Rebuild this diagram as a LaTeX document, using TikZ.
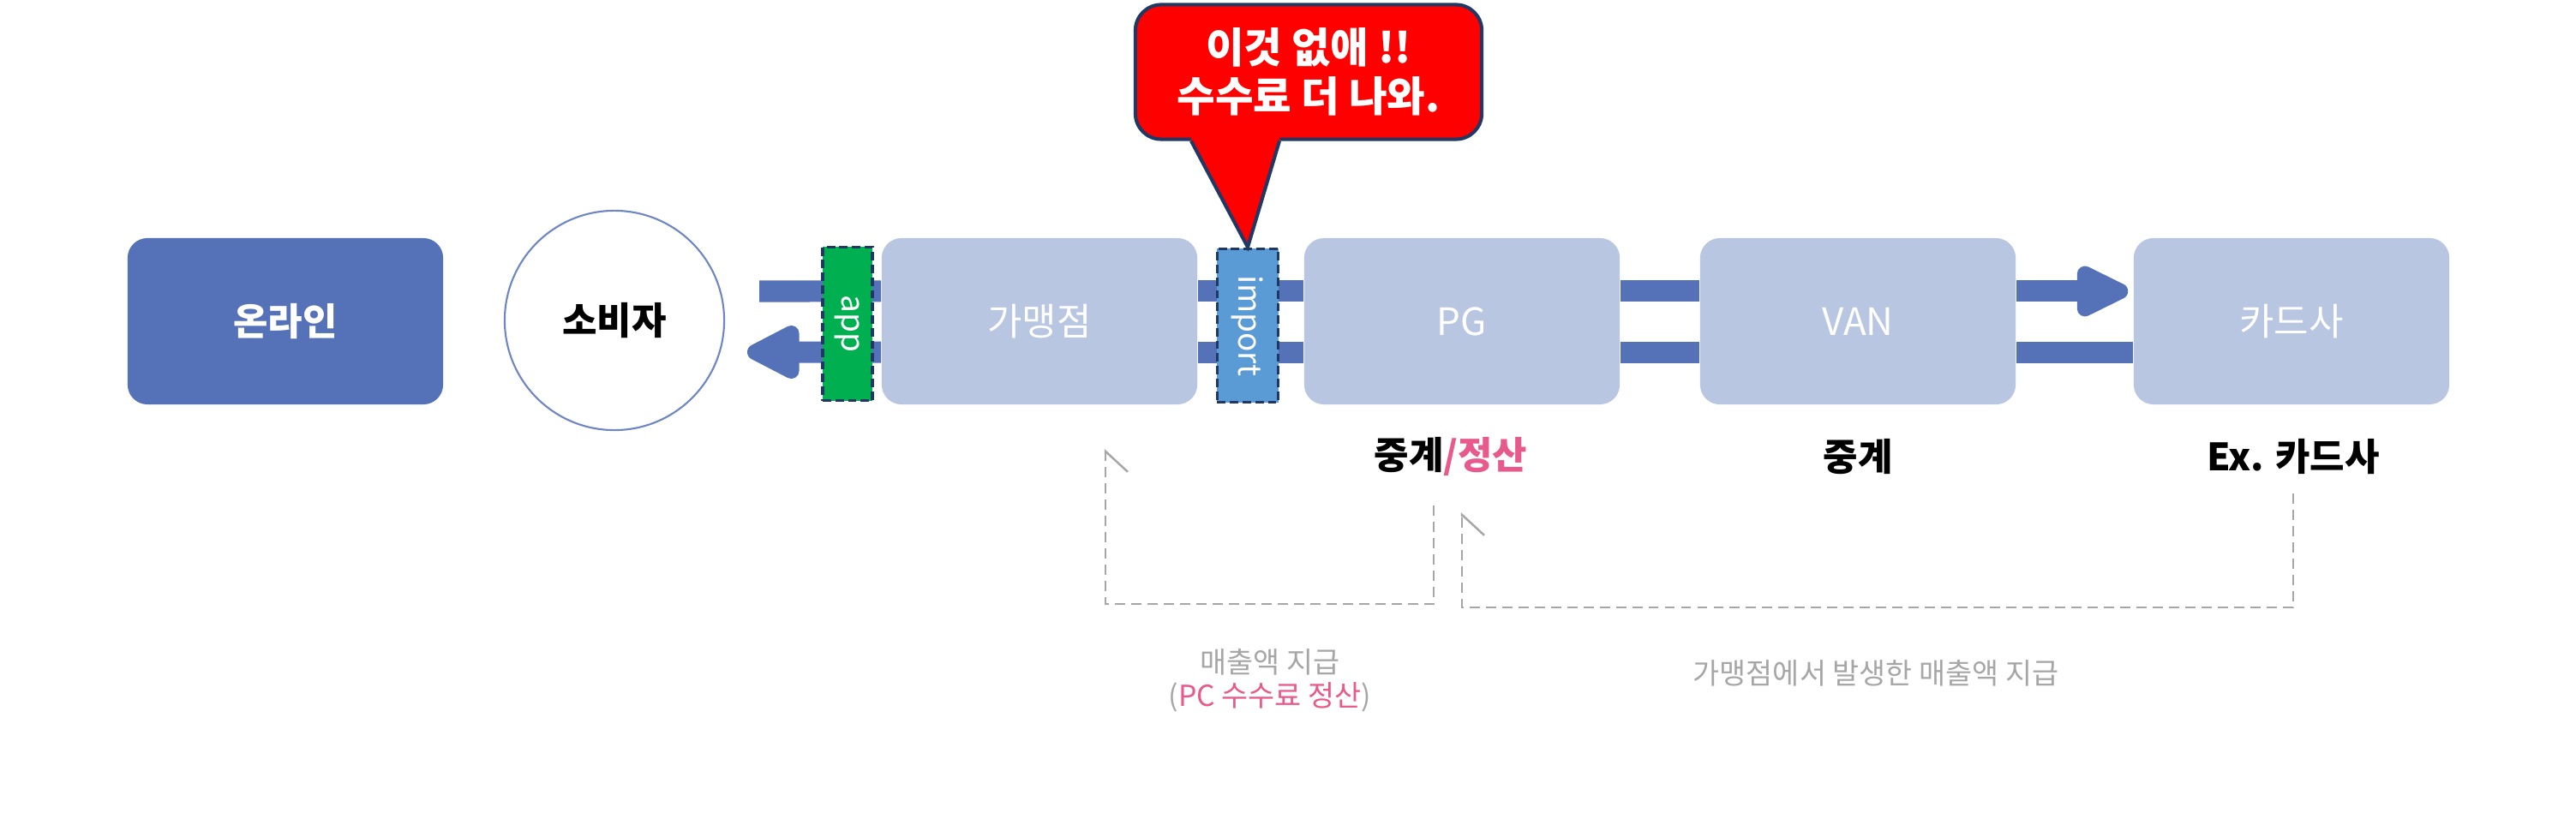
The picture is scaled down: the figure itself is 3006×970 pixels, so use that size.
\documentclass[tikz,border=0pt]{standalone}
\usepackage{fontspec}
\setmainfont{Noto Sans CJK KR}
\usetikzlibrary{arrows.meta, positioning, calc}
\definecolor{flowblue}{HTML}{5572B9}
\definecolor{paleblue}{HTML}{B8C6E2}
\definecolor{ringblue}{HTML}{6F86C4}
\definecolor{appgreen}{HTML}{00B050}
\definecolor{importblue}{HTML}{5B9BD5}
\definecolor{edgenavy}{HTML}{1F3864}
\definecolor{alertred}{HTML}{FF0000}
\definecolor{accentpink}{HTML}{E85A8C}
\definecolor{notegray}{HTML}{A6A6A6}

\begin{document}
\begin{tikzpicture}[x=0.01cm, y=-0.01cm,
    party/.style={rounded corners=0.23cm, minimum width=3.68cm, minimum height=1.94cm, inner sep=0pt, text=white, font=\fontsize{12.5}{15}\selectfont},
    flow/.style={flowblue, line width=0.25cm},
    gatebox/.style={draw=edgenavy, line width=1.1pt, dash pattern=on 2.8pt off 1.4pt, minimum height=1.79cm, inner sep=0pt, text=white, font=\fontsize{10.5}{12}\selectfont},
    rolelbl/.style={font=\fontsize{12.5}{15}\selectfont\bfseries},
    notelbl/.style={notegray, align=center, font=\fontsize{9.6}{11}\selectfont},
    paypath/.style={notegray, line width=0.7pt, dash pattern=on 3.4pt off 2pt},
    alertbox/.style={fill=alertred, draw=edgenavy, line width=1.15pt, rounded corners=0.3cm, minimum width=4.04cm, minimum height=1.57cm, text=white, align=center, font=\fontsize{13.8}{16.2}\selectfont\bfseries}]
  \useasboundingbox (0,0) rectangle (3006,970);
  \fill[white] (0,0) rectangle (3006,970);

  % Boxes
  \node[party, fill=flowblue, font=\fontsize{12.5}{15}\selectfont\bfseries] (online) at (333,375) {온라인};
  \node[circle, draw=ringblue, line width=0.6pt, minimum size=2.56cm, font=\fontsize{12.5}{15}\selectfont\bfseries] (cons) at (717,374) {소비자};
  \node[party, fill=paleblue] (gmj) at (1213,375) {가맹점};
  \node[party, fill=paleblue] (pg) at (1706,375) {PG};
  \node[party, fill=paleblue] (van) at (2168,375) {VAN};
  \node[party, fill=paleblue] (card) at (2674,375) {카드사};

  % Flows
  \coordinate (consin) at (886,340);
  \coordinate (consout) at (872,411);
  \draw[flow] (consin) -- ([yshift=0.35cm]gmj.west);
  \draw[flow, -{Triangle[length=0.73cm, width=0.68cm, round]}] ([yshift=-0.36cm]gmj.west) -- (consout);
  \foreach \a/\b in {gmj/pg, pg/van} {
    \draw[flow] ([yshift=0.35cm]\a.east) -- ([yshift=0.35cm]\b.west);
    \draw[flow] ([yshift=-0.36cm]\a.east) -- ([yshift=-0.36cm]\b.west);
  }
  \draw[flow, -{Triangle[length=0.73cm, width=0.64cm, round]}, shorten >=0.06cm] ([yshift=0.35cm]van.east) -- ([yshift=0.35cm]card.west);
  \draw[flow] ([yshift=-0.36cm]van.east) -- ([yshift=-0.36cm]card.west);

  % app / import
  \node[gatebox, fill=appgreen, minimum width=0.58cm] (app) at (989,378) {\rotatebox{-90}{app}};
  \node[gatebox, fill=importblue, minimum width=0.71cm] (imp) at (1456,380) {\rotatebox{-90}{import}};

  % Roles
  \node[rolelbl] (pglbl) at (1693,533) {중계\textcolor{accentpink}{/정산}};
  \node[rolelbl] (vanlbl) at (2168,533) {중계};
  \node[rolelbl] (cardlbl) at (2676,533) {Ex. 카드사};

  % Settlement
  \coordinate (pgout) at (1673,590);
  \coordinate (gmjin) at (1290,524);
  \coordinate (cardout) at (2676,576);
  \coordinate (pgin) at (1706,598);
  \draw[paypath, -{Straight Barb[harpoon, swap, length=0.24cm, width=0.52cm]}] (pgout) -- ++(0,115) -| (gmjin);
  \draw[paypath, -{Straight Barb[harpoon, swap, length=0.24cm, width=0.52cm]}] (cardout) -- ++(0,133) -| (pgin);
  \node[notelbl] (fee) at (1482,794) {매출액 지급\\(\textcolor{accentpink}{PC 수수료 정산})};
  \node[notelbl] (sales) at (2189,786) {가맹점에서 발생한 매출액 지급};

  % Callout
  \node[alertbox] (warn) at (1527,84) {이것 없애 !!\\수수료 더 나와.};
  \coordinate (ptl) at ($(warn.south)+(-137,0)$);
  \coordinate (ptr) at ($(warn.south)+(-34,0)$);
  \fill[alertred] ($(ptl)+(0,-10)$) -- (ptl) -- (imp.north) -- (ptr) -- ($(ptr)+(0,-10)$) -- cycle;
  \draw[edgenavy, line width=1.15pt, line join=miter] (ptl) -- (imp.north) -- (ptr);
\end{tikzpicture}
\end{document}
